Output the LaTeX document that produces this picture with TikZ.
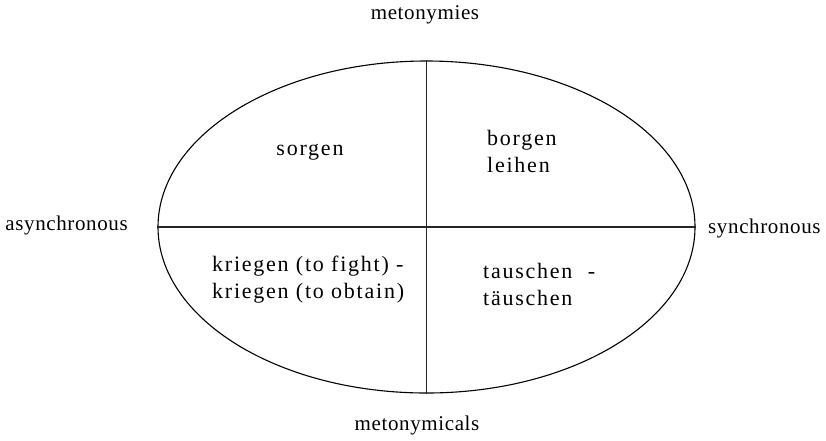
\documentclass[tikz,border=0pt]{standalone}
\usepackage{fontspec}
\setmainfont{Liberation Serif}
\usetikzlibrary{shapes.geometric}
\newfontfamily\outerfont[LetterSpace=3]{Liberation Serif}
\newfontfamily\innerfont[LetterSpace=8]{Liberation Serif}
\begin{document}
\begin{tikzpicture}[x=1pt,y=-1pt,
  outerlbl/.style={font=\outerfont\fontsize{21}{24}\selectfont, inner sep=0pt},
  innerlbl/.style={font=\innerfont\fontsize{22}{27}\selectfont, inner sep=0pt, align=left},
  axisline/.style={draw=black!85, line width=1.3pt}]
\useasboundingbox (0,0) rectangle (826,440);
\node[ellipse, draw, line width=1.1pt, minimum width=537pt, minimum height=332pt, inner sep=0pt] (ell) at (426.5,227) {};
\draw[axisline] (ell.north) -- (ell.south);
\draw[axisline] (ell.west) -- (ell.east);
\node[outerlbl] (top) at (425,15) {metonymies};
\node[outerlbl] (bot) at (417,425) {metonymicals};
\node[outerlbl, anchor=east] (lft) at (128,225) {asynchronous};
\node[outerlbl, anchor=west] (rgt) at (708,228) {synchronous};
\node[innerlbl] (q1) at (310,152) {sorgen};
\node[innerlbl, anchor=west] (q2) at (487,151) {borgen\\leihen};
\node[innerlbl, anchor=west] (q3) at (212,280) {kriegen (to fight) -\\kriegen (to obtain)};
\node[innerlbl, anchor=west] (q4) at (483,284) {tauschen\hspace{0.7em}-\\täuschen};
\end{tikzpicture}
\end{document}
